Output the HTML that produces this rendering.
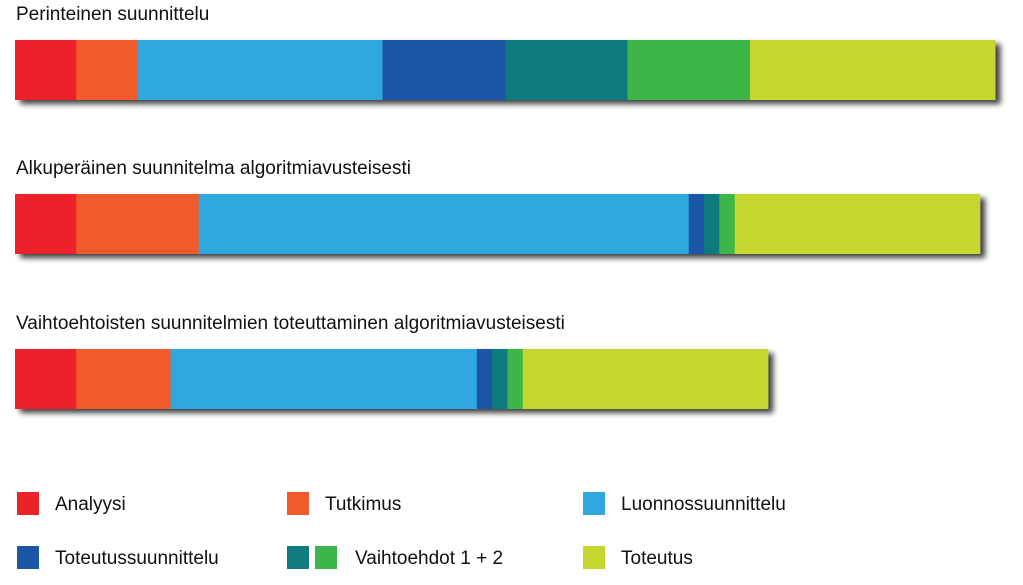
<!DOCTYPE html>
<html><head><meta charset="utf-8"><style>
body{margin:0;width:1023px;height:580px;background:#fff;overflow:hidden;font-family:"Liberation Sans",sans-serif;}
svg text{font-family:"Liberation Sans",sans-serif;fill:#111;}
</style></head><body>
<svg id="chart" width="1023" height="580">
<defs><filter id="sh" x="-5%" y="-20%" width="110%" height="160%"><feDropShadow dx="5" dy="4" stdDeviation="3" flood-color="#000" flood-opacity="0.75"/></filter></defs>
</svg>
<script>
const titles=["Perinteinen suunnittelu","Alkuperäinen suunnitelma algoritmiavusteisesti","Vaihtoehtoisten suunnitelmien toteuttaminen algoritmiavusteisesti"];
const categories=["Analyysi","Tutkimus","Luonnossuunnittelu","Toteutussuunnittelu","Vaihtoehdot 1","Vaihtoehdot 2","Toteutus"];
const row1=[1,1,4,2,2,2,4];
const row2=[1,2,8,0.25,0.25,0.25,4];
const row3=[1,1.54,5,0.25,0.25,0.25,4];
const colors=["#ec2229","#f15a2b","#2ea8df","#1b57a6","#0f7a80","#3db54a","#c5d62e"];
const rows=[row1,row2,row3];
const svg=document.getElementById('chart');
const NS='http://www.w3.org/2000/svg';
const x0=15,unit=61.25,barH=60;
const xs=v=>x0+v*unit;
const rowY=[40,194,349];
rows.forEach((r,i)=>{
  const t=document.createElementNS(NS,'text');
  t.setAttribute('x',16);t.setAttribute('y',rowY[i]-20);t.setAttribute('font-size','19');
  t.textContent=titles[i];
  
  
  svg.appendChild(t);
  const g=document.createElementNS(NS,'g');
  g.setAttribute('filter','url(#sh)');
  
  
  svg.appendChild(g);
  let acc=0;
  r.forEach((v,j)=>{
    const rc=document.createElementNS(NS,'rect');
    rc.setAttribute('x',xs(acc));rc.setAttribute('y',rowY[i]);
    rc.setAttribute('width',xs(acc+v)-xs(acc)+0.5);rc.setAttribute('height',barH);
    rc.setAttribute('fill',colors[j]);
    
    
    g.appendChild(rc);acc+=v;
  });
});
const legend=[[17,492,[0],"Analyysi"],[287,492,[1],"Tutkimus"],[583,492,[2],"Luonnossuunnittelu"],[17,546,[3],"Toteutussuunnittelu"],[287,546,[4,5],"Vaihtoehdot 1 + 2"],[583,546,[6],"Toteutus"]];
legend.forEach(([lx,ly,cs,lab])=>{
  const g=document.createElementNS(NS,'g');
  
  
  svg.appendChild(g);
  cs.forEach((c,k)=>{
    const rc=document.createElementNS(NS,'rect');
    rc.setAttribute('x',lx+k*28);rc.setAttribute('y',ly);rc.setAttribute('width',22);rc.setAttribute('height',23);
    rc.setAttribute('fill',colors[c]);
    
    
    g.appendChild(rc);
  });
  const t=document.createElementNS(NS,'text');
  t.setAttribute('x',lx+(cs.length>1?68:38));t.setAttribute('y',ly+18);t.setAttribute('font-size','19');
  t.textContent=lab;
  
  
  g.appendChild(t);
});
</script>
</body></html>
